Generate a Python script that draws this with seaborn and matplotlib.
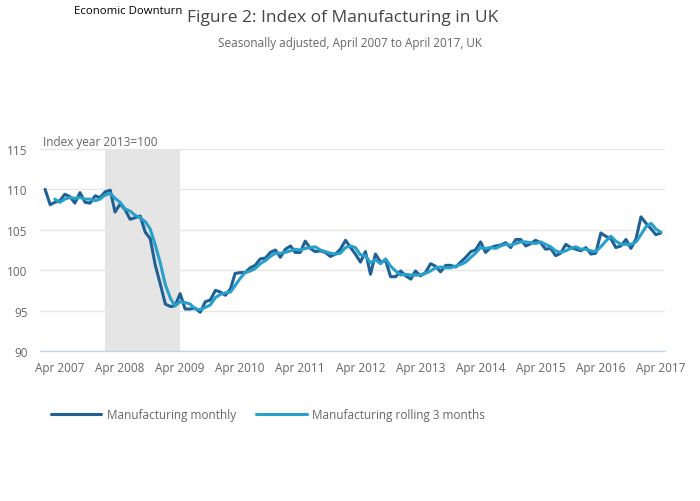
import seaborn as sns
import matplotlib.pyplot as plt
import matplotlib.dates as mdates
from matplotlib.lines import Line2D
import pandas as pd

# Index of Manufacturing, 2013=100, monthly from Jan 2007 to Apr 2017
monthly = [
    110.0, 108.1, 108.4, 108.6, 109.4, 109.1, 108.3, 109.6, 108.4, 108.3, 109.2, 109.0,
    109.7, 109.9, 107.2, 108.2, 107.5, 106.3, 106.5, 106.7, 104.7, 103.9, 100.6, 98.3,
    95.8, 95.5, 95.6, 97.1, 95.2, 95.2, 95.3, 94.8, 96.1, 96.3, 97.5, 97.3,
    96.9, 97.7, 99.6, 99.7, 99.7, 100.3, 100.6, 101.4, 101.5, 102.2, 102.5, 101.6,
    102.6, 103.0, 102.2, 102.2, 103.6, 102.7, 102.3, 102.4, 102.2, 101.7, 102.0, 102.6,
    103.7, 102.8, 102.0, 101.0, 102.3, 99.5, 102.0, 101.0, 101.2, 99.2, 99.2, 99.9,
    99.3, 98.9, 99.9, 99.3, 99.7, 100.8, 100.5, 99.8, 100.6, 100.6, 100.4, 101.0,
    101.6, 102.3, 102.5, 103.5, 102.2, 102.8, 103.0, 103.1, 103.4, 102.8, 103.8, 103.8,
    103.0, 103.3, 103.7, 103.4, 102.6, 102.7, 101.8, 102.1, 103.2, 102.8, 102.6, 102.4,
    102.8, 102.0, 102.1, 104.6, 104.2, 103.9, 102.8, 103.0, 103.8, 102.7, 103.9, 106.6,
    105.8, 105.1, 104.4, 104.6,
]

# rolling 3 months, from Mar 2007
rolling = [
    108.8, 108.4, 108.8, 109.0, 108.9, 109.0, 108.8, 108.8, 108.6, 108.8,
    109.3, 109.5, 108.9, 108.4, 107.6, 107.3, 106.8, 106.5, 106.0, 105.1, 103.1, 100.9,
    98.2, 96.5, 95.6, 96.1, 96.0, 95.8, 95.2, 95.1, 95.4, 95.7, 96.6, 97.0,
    97.2, 97.3, 98.1, 99.0, 99.7, 99.9, 100.2, 100.8, 101.2, 101.7, 102.1, 102.1,
    102.2, 102.4, 102.6, 102.5, 102.7, 102.8, 102.9, 102.5, 102.3, 102.1, 102.0, 102.1,
    102.8, 103.0, 102.8, 101.9, 101.8, 100.9, 101.3, 100.8, 101.4, 100.5, 99.9, 99.4,
    99.5, 99.4, 99.4, 99.4, 99.6, 99.9, 100.3, 100.4, 100.3, 100.3, 100.5, 100.7,
    101.0, 101.6, 102.1, 102.8, 102.7, 102.8, 102.7, 103.0, 103.2, 103.1, 103.3, 103.5,
    103.5, 103.4, 103.3, 103.5, 103.2, 102.9, 102.4, 102.2, 102.4, 102.7, 102.9, 102.6,
    102.6, 102.4, 102.3, 102.9, 103.6, 104.2, 103.6, 103.2, 103.2, 103.2, 103.5, 104.4,
    105.4, 105.8, 105.1, 104.7,
]

months = pd.date_range("2007-01-01", periods=len(monthly), freq="MS")
rolling_months = months[len(monthly) - len(rolling):]

tick_years = list(range(2007, 2018))
tick_labels = [f"Apr {y}" for y in tick_years]
y_ticks = [90, 95, 100, 105, 110, 115]
downturn_start, downturn_end = "2008-01-01", "2009-04-01"

dark_blue = "#206095"
light_blue = "#27a0cc"
grey_text = "#666666"

df_monthly = pd.DataFrame({"date": months, "index": monthly})
df_rolling = pd.DataFrame({"date": rolling_months, "index": rolling})

sns.set_style("white")
plt.rcParams["font.family"] = ["Open Sans", "DejaVu Sans"]

fig = plt.figure(figsize=(7, 5.02), dpi=100)
ax = fig.add_axes([40 / 700, 1 - 352 / 502, 625 / 700, 202 / 502])

ax.axvspan(pd.Timestamp(downturn_start), pd.Timestamp(downturn_end),
           color="#e5e5e5", lw=0, zorder=1)

sns.lineplot(data=df_monthly, x="date", y="index", color=dark_blue, lw=2.2, ax=ax, zorder=3)
sns.lineplot(data=df_rolling, x="date", y="index", color=light_blue, lw=2.2, ax=ax, zorder=4)

ax.set_xlim(pd.Timestamp("2006-12-01"), pd.Timestamp("2017-04-26"))
ax.set_ylim(90, 115)
ax.set_xlabel("")
ax.set_ylabel("")

ax.set_xticks([mdates.date2num(pd.Timestamp(f"{y}-04-01")) for y in tick_years])
ax.set_xticklabels(tick_labels)
ax.set_yticks(y_ticks)
ax.tick_params(axis="x", direction="out", length=4, width=1, color="#c6d4ea",
               labelsize=8.5, labelcolor=grey_text, pad=3)
ax.tick_params(axis="y", length=0, labelsize=8.5, labelcolor=grey_text, pad=9)

ax.yaxis.grid(True, color="#e6e6e6", lw=1, zorder=0)
ax.set_axisbelow(True)
for side in ["top", "right", "left"]:
    ax.spines[side].set_visible(False)
ax.spines["bottom"].set_color("#c6d4ea")
ax.spines["bottom"].set_linewidth(1)

# titles and notes
fig.text(343 / 700, 1 - 18 / 502, "Figure 2: Index of Manufacturing in UK",
         ha="center", va="center", fontsize=12.5, color="#444444")
fig.text(350 / 700, 1 - 44 / 502, "Seasonally adjusted, April 2007 to April 2017, UK",
         ha="center", va="center", fontsize=8.5, color=grey_text)
fig.text(128 / 700, 1 - 12 / 502, "Economic Downturn",
         ha="center", va="center", fontsize=8.2, color="black")
fig.text(43 / 700, 1 - 143 / 502, "Index year 2013=100",
         ha="left", va="center", fontsize=8.5, color=grey_text)

handles = [Line2D([], [], color=dark_blue, lw=2.2),
           Line2D([], [], color=light_blue, lw=2.2)]
fig.legend(handles, ["Manufacturing monthly", "Manufacturing rolling 3 months"],
           loc="center left", bbox_to_anchor=(40 / 700, 1 - 416 / 502), ncol=2,
           frameon=False, fontsize=8.5, labelcolor=grey_text,
           handlelength=4.3, handletextpad=0.45, columnspacing=1.7)

plt.savefig("out.png", dpi=100)
plt.close()
